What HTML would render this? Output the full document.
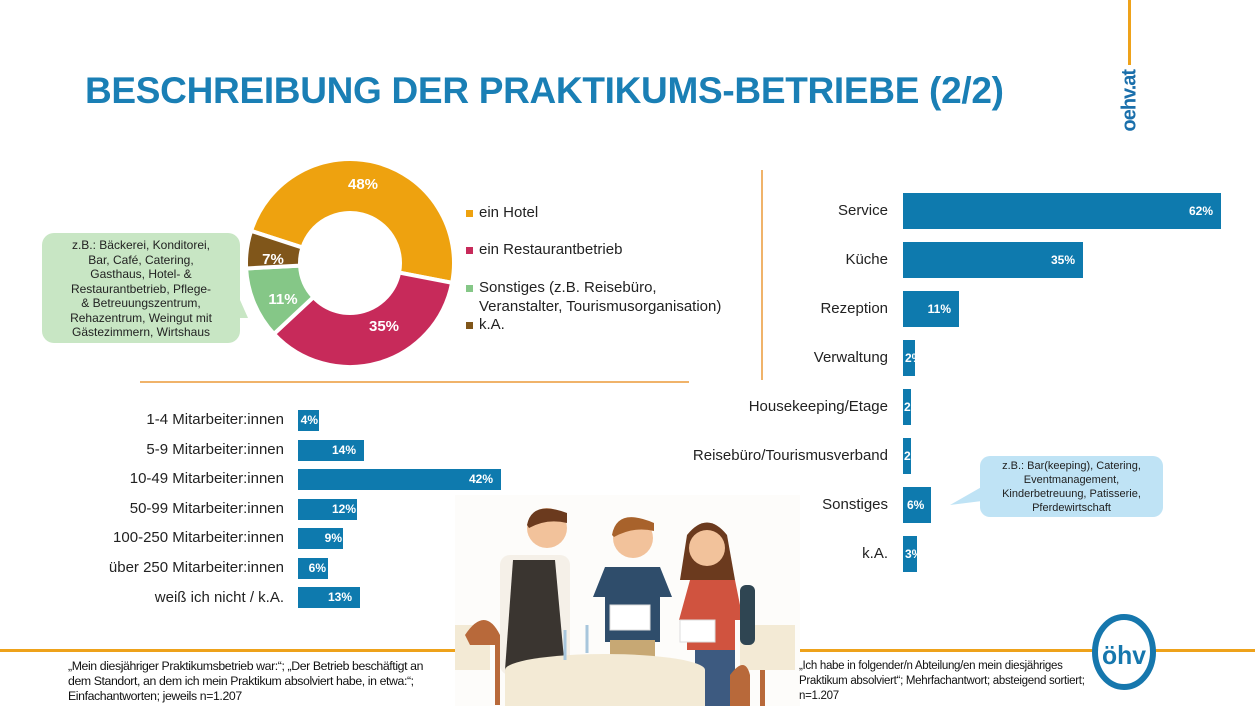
<!DOCTYPE html>
<html><head><meta charset="utf-8"><style>
body{margin:0;width:1255px;height:706px;overflow:hidden;background:#fff;font-family:"Liberation Sans",sans-serif;position:relative}
.a{position:absolute}
.title{left:85px;top:70px;font-size:37px;font-weight:bold;color:#1a7fb5;letter-spacing:-0.3px;white-space:nowrap}
.lbl{position:absolute;text-align:right;color:#222;white-space:nowrap}
.bar{position:absolute;background:#0e7aae;color:#fff;font-weight:bold;text-align:right;box-sizing:border-box;overflow:hidden;white-space:nowrap}
.leg{position:absolute;font-size:15px;color:#222}
.sq{display:inline-block;width:7px;height:7px;margin-right:6px;vertical-align:middle}
.foot{position:absolute;font-size:11.5px;color:#111;line-height:15px;letter-spacing:-0.3px}
</style></head><body>
<div class="a title">BESCHREIBUNG DER PRAKTIKUMS-BETRIEBE (2/2)</div>
<div class="a" style="left:1128px;top:0;width:3px;height:65px;background:#eea21a"></div>
<div class="a" style="left:1100px;top:90px;transform:rotate(-90deg);transform-origin:center;color:#1a6fab;font-size:20px;font-weight:bold;width:60px;text-align:center;letter-spacing:-1px">oehv.at</div>
<!-- dividers -->
<div class="a" style="left:761px;top:170px;width:2px;height:210px;background:#f0b36a"></div>
<div class="a" style="left:140px;top:381px;width:549px;height:2px;background:#f0b36a"></div>
<!-- donut -->
<svg class="a" style="left:0;top:0" width="760" height="400">
<g stroke="#fff" stroke-width="4">
<path id="o" fill="#eea20f"/><path id="p" fill="#c72a5a"/><path id="g" fill="#85c787"/><path id="b" fill="#80561a"/>
</g>
<polygon points="240,300 210,318 248,318" fill="#c8e6c4"/>
<g fill="#fff" font-weight="bold" font-size="15" font-family="Liberation Sans" text-anchor="middle">
<text x="363" y="189">48%</text><text x="384" y="331">35%</text><text x="283" y="304">11%</text><text x="273" y="264">7%</text>
</g>
</svg>
<svg class="a" style="left:940px;top:480px" width="60" height="40"><polygon points="45,5 10,25 50,20" fill="#bfe3f5"/></svg>
<script>
function arc(a0,a1){var cx=350,cy=263,R=104,r=50;function pt(a,rr){a=(a-90)*Math.PI/180;return [cx+rr*Math.cos(a),cy+rr*Math.sin(a)]}
var l=(a1-a0)>180?1:0,p1=pt(a0,R),p2=pt(a1,R),p3=pt(a1,r),p4=pt(a0,r);
return "M"+p1+"A"+R+","+R+" 0 "+l+" 1 "+p2+"L"+p3+"A"+r+","+r+" 0 "+l+" 0 "+p4+"Z";}
document.getElementById('o').setAttribute('d',arc(-72,101));
document.getElementById('p').setAttribute('d',arc(101,227));
document.getElementById('g').setAttribute('d',arc(227,267));
document.getElementById('b').setAttribute('d',arc(267,288));
</script>
<div class="leg" style="left:466px;top:204px"><span class="sq" style="background:#eea20f"></span>ein Hotel</div>
<div class="leg" style="left:466px;top:241px"><span class="sq" style="background:#c72a5a"></span>ein Restaurantbetrieb</div>
<div class="leg" style="left:466px;top:278px;line-height:19px"><span class="sq" style="background:#85c787"></span>Sonstiges (z.B. Reisebüro,<br><span style="margin-left:13px">Veranstalter, Tourismusorganisation)</span></div>
<div class="leg" style="left:466px;top:316px"><span class="sq" style="background:#80561a"></span>k.A.</div>
<div class="a" style="left:42px;top:233px;width:198px;height:110px;background:#c8e6c4;border-radius:12px;font-size:12px;line-height:14.5px;text-align:center;color:#222;padding-top:5px;box-sizing:border-box">z.B.: Bäckerei, Konditorei,<br>Bar, Café, Catering,<br>Gasthaus, Hotel- &amp;<br>Restaurantbetrieb, Pflege-<br>&amp; Betreuungszentrum,<br>Rehazentrum, Weingut mit<br>Gästezimmern, Wirtshaus</div>
<!-- left bars -->
<div style="font-size:15px">
<div class="lbl" style="right:971px;top:411px">1-4 Mitarbeiter:innen</div><div class="bar" style="left:298px;top:410px;width:21px;height:21px;font-size:12px;line-height:21px;padding-right:1px">4%</div>
<div class="lbl" style="right:971px;top:441px">5-9 Mitarbeiter:innen</div><div class="bar" style="left:298px;top:440px;width:66px;height:21px;font-size:12px;line-height:21px;padding-right:8px">14%</div>
<div class="lbl" style="right:971px;top:470px">10-49 Mitarbeiter:innen</div><div class="bar" style="left:298px;top:469px;width:203px;height:21px;font-size:12px;line-height:21px;padding-right:8px">42%</div>
<div class="lbl" style="right:971px;top:500px">50-99 Mitarbeiter:innen</div><div class="bar" style="left:298px;top:499px;width:59px;height:21px;font-size:12px;line-height:21px;padding-right:1px">12%</div>
<div class="lbl" style="right:971px;top:529px">100-250 Mitarbeiter:innen</div><div class="bar" style="left:298px;top:528px;width:45px;height:21px;font-size:12px;line-height:21px;padding-right:1px">9%</div>
<div class="lbl" style="right:971px;top:559px">über 250 Mitarbeiter:innen</div><div class="bar" style="left:298px;top:558px;width:30px;height:21px;font-size:12px;line-height:21px;padding-right:2px">6%</div>
<div class="lbl" style="right:971px;top:589px">weiß ich nicht / k.A.</div><div class="bar" style="left:298px;top:587px;width:62px;height:21px;font-size:12px;line-height:21px;padding-right:8px">13%</div>
</div>
<!-- right bars -->
<div style="font-size:15px">
<div class="lbl" style="right:367px;top:202px">Service</div><div class="bar" style="left:903px;top:193px;width:318px;height:36px;font-size:12px;line-height:36px;padding-right:8px">62%</div>
<div class="lbl" style="right:367px;top:251px">Küche</div><div class="bar" style="left:903px;top:242px;width:180px;height:36px;font-size:12px;line-height:36px;padding-right:8px">35%</div>
<div class="lbl" style="right:367px;top:300px">Rezeption</div><div class="bar" style="left:903px;top:291px;width:56px;height:36px;font-size:12px;line-height:36px;padding-right:8px">11%</div>
<div class="lbl" style="right:367px;top:349px">Verwaltung</div><div class="bar" style="left:903px;top:340px;width:12px;height:36px;font-size:12px;line-height:36px;text-align:left;padding-left:2px">2%</div>
<div class="lbl" style="right:367px;top:398px">Housekeeping/Etage</div><div class="bar" style="left:903px;top:389px;width:8px;height:36px;font-size:12px;line-height:36px;text-align:left;padding-left:1px">2%</div>
<div class="lbl" style="right:367px;top:447px">Reisebüro/Tourismusverband</div><div class="bar" style="left:903px;top:438px;width:8px;height:36px;font-size:12px;line-height:36px;text-align:left;padding-left:1px">2%</div>
<div class="lbl" style="right:367px;top:496px">Sonstiges</div><div class="bar" style="left:903px;top:487px;width:28px;height:36px;font-size:12px;line-height:36px;text-align:left;padding-left:4px">6%</div>
<div class="lbl" style="right:367px;top:545px">k.A.</div><div class="bar" style="left:903px;top:536px;width:14px;height:36px;font-size:12px;line-height:36px;text-align:left;padding-left:2px">3%</div>
</div>
<div class="a" style="left:980px;top:456px;width:183px;height:61px;background:#bfe3f5;border-radius:10px;font-size:11px;line-height:14px;text-align:center;color:#222;padding-top:3px;box-sizing:border-box">z.B.: Bar(keeping), Catering,<br>Eventmanagement,<br>Kinderbetreuung, Patisserie,<br>Pferdewirtschaft</div>
<!-- bottom line -->
<div class="a" style="left:0;top:649px;width:1255px;height:3px;background:#eea21a"></div>
<!-- illustration -->
<svg class="a" style="left:455px;top:495px" width="345" height="211">
<rect x="0" y="0" width="345" height="211" fill="#fdfcfa"/>
<rect x="0" y="130" width="35" height="45" fill="#f3ead5"/><path d="M10,140 q20,-30 35,0 v70 h-5 v-60 h-25z" fill="#b8693a"/>
<rect x="285" y="130" width="55" height="45" fill="#f3ead5"/><rect x="305" y="175" width="5" height="36" fill="#b8693a"/>
<rect x="45" y="60" width="70" height="120" rx="10" fill="#f5f0e8"/>
<path d="M58,65 L100,65 L110,175 L50,175Z" fill="#3a3530"/>
<circle cx="92" cy="33" r="20" fill="#f2c29b"/><path d="M72,30 q5,-25 40,-12 l0,10 q-20,-5 -38,5z" fill="#6b3a1e"/>
<path d="M150,72 h55 l12,30 h-12 v45 h-55 v-45 h-12z" fill="#2f4d6b"/><rect x="155" y="145" width="45" height="20" fill="#c7a874"/>
<circle cx="178" cy="43" r="20" fill="#f2c29b"/><path d="M157,40 q5,-28 42,-12 l0,8 q-20,-5 -40,6z" fill="#a8622b"/>
<rect x="155" y="110" width="40" height="25" fill="#fff" stroke="#ddd"/>
<path d="M232,40 q20,-25 40,0 l8,45 h-55z" fill="#6b3a1e"/>
<circle cx="252" cy="53" r="18" fill="#f2c29b"/>
<path d="M235,85 h45 l8,40 h-8 v30 h-48 v-30 h-8z" fill="#d0533f"/><rect x="285" y="90" width="15" height="60" rx="6" fill="#2f4552"/>
<rect x="240" y="155" width="40" height="56" fill="#3d5a80"/>
<rect x="225" y="125" width="35" height="22" fill="#fff" stroke="#ddd"/>
<ellipse cx="150" cy="175" rx="100" ry="16" fill="#f3ead5"/><rect x="50" y="175" width="200" height="36" fill="#f3ead5"/>
<path d="M275,180 q15,-20 20,0 v31 h-20z" fill="#b8693a"/>
<path d="M110,135 v30 M132,130 v28" stroke="#a8c6dc" stroke-width="3"/>
</svg>
<!-- logo -->
<svg class="a" style="left:1090px;top:612px" width="68" height="80"><ellipse cx="34" cy="40" rx="29" ry="35" fill="#fff" stroke="#1677ad" stroke-width="6"/><text x="34" y="52" text-anchor="middle" font-size="26" font-weight="bold" fill="#1677ad" font-family="Liberation Sans" textLength="44" lengthAdjust="spacingAndGlyphs">öhv</text></svg>
<div class="foot" style="left:68px;top:659px;font-size:12.3px;letter-spacing:-0.4px">„Mein diesjähriger Praktikumsbetrieb war:“; „Der Betrieb beschäftigt an<br>dem Standort, an dem ich mein Praktikum absolviert habe, in etwa:“;<br>Einfachantworten; jeweils n=1.207</div>
<div class="foot" style="left:799px;top:659px">„Ich habe in folgender/n Abteilung/en mein diesjähriges<br>Praktikum absolviert“; Mehrfachantwort; absteigend sortiert;<br>n=1.207</div>
</body></html>
